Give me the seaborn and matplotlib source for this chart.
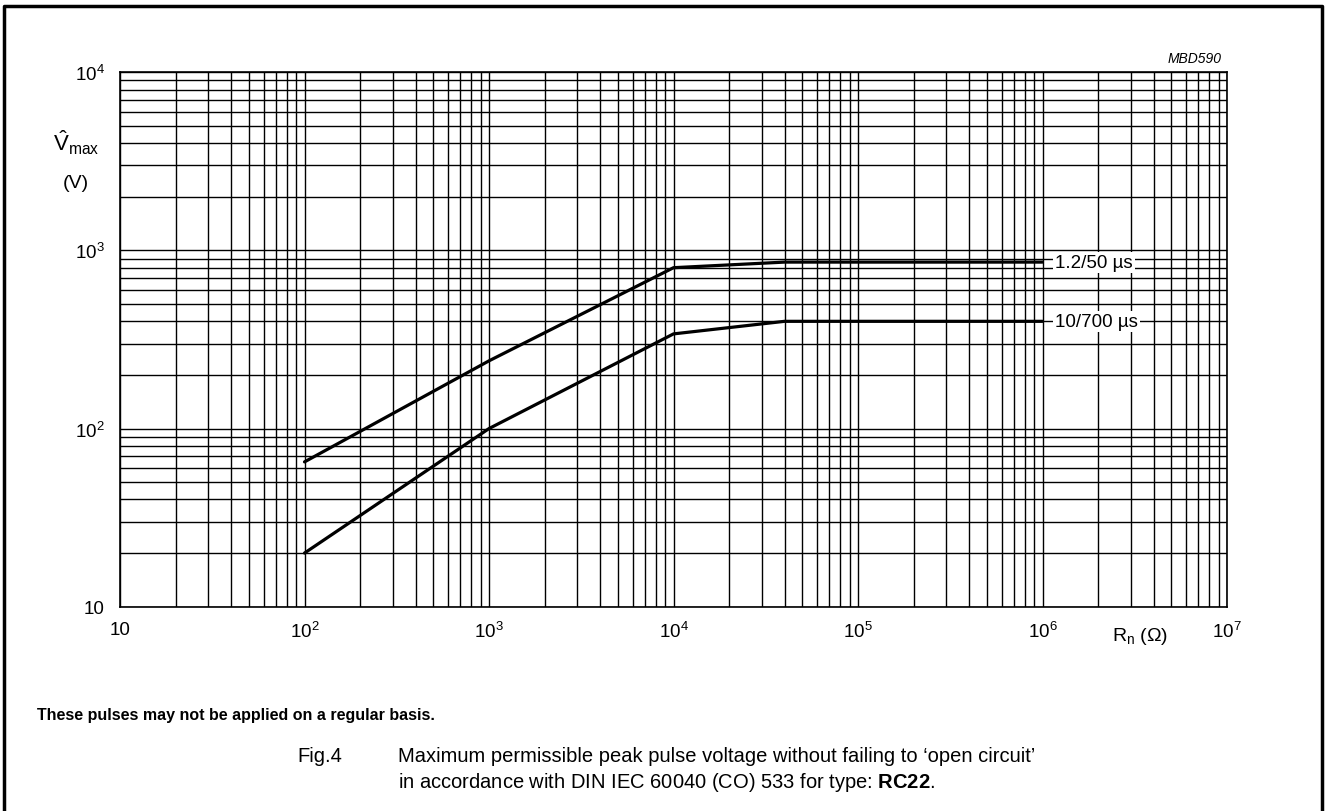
import numpy as np
import pandas as pd
import seaborn as sns
import matplotlib.pyplot as plt
from matplotlib.ticker import LogLocator, NullFormatter, FixedFormatter, FixedLocator

# data: resistance (ohm) vs max peak pulse voltage (V)
r_fast = [1e2, 1e3, 1e4, 4e4, 1e6]
v_fast = [65, 240, 800, 860, 860]      # 1.2/50 us
r_slow = [1e2, 1e3, 1e4, 4e4, 1e6]
v_slow = [20, 100, 340, 400, 400]      # 10/700 us
series_names = ['1.2/50 µs', '10/700 µs']

x_ticks = [1e1, 1e2, 1e3, 1e4, 1e5, 1e6, 1e7]
x_ticklabels = ['10', '$10^{2}$', '$10^{3}$', '$10^{4}$', '$10^{5}$', '$10^{6}$', '$10^{7}$']
y_ticks = [1e1, 1e2, 1e3, 1e4]
y_ticklabels = ['10', '$10^{2}$', '$10^{3}$', '$10^{4}$']

df = pd.concat([
    pd.DataFrame({'R': r_fast, 'V': v_fast, 'pulse': series_names[0]}),
    pd.DataFrame({'R': r_slow, 'V': v_slow, 'pulse': series_names[1]}),
])

sns.set_style('white')
plt.rcParams['font.family'] = ['Liberation Sans', 'DejaVu Sans']
plt.rcParams['text.color'] = 'black'
plt.rcParams['mathtext.fontset'] = 'custom'
plt.rcParams['mathtext.rm'] = 'Liberation Sans'
plt.rcParams['mathtext.it'] = 'Liberation Sans:italic'
plt.rcParams['mathtext.bf'] = 'Liberation Sans:bold'

fig = plt.figure(figsize=(13.26, 8.12), dpi=100)
ax = fig.add_axes([120 / 1326, 1 - 607.7 / 812, 1107 / 1326, 534.4 / 812])

sns.lineplot(data=df, x='R', y='V', hue='pulse', palette=['black', 'black'],
             linewidth=2.3, legend=False, ax=ax, zorder=3)

ax.set_xscale('log')
ax.set_yscale('log')
ax.set_xlim(1e1, 1e7)
ax.set_ylim(1e1, 1e4)

ax.xaxis.set_major_locator(FixedLocator(x_ticks))
ax.xaxis.set_major_formatter(FixedFormatter(x_ticklabels))
ax.yaxis.set_major_locator(FixedLocator(y_ticks))
ax.yaxis.set_major_formatter(FixedFormatter(y_ticklabels))
ax.xaxis.set_minor_locator(LogLocator(base=10, subs=np.arange(2, 10)))
ax.yaxis.set_minor_locator(LogLocator(base=10, subs=np.arange(2, 10)))
ax.xaxis.set_minor_formatter(NullFormatter())
ax.yaxis.set_minor_formatter(NullFormatter())
ax.tick_params(which='both', length=0, labelsize=13.5, colors='black')
ax.tick_params(axis='x', pad=10)
ax.tick_params(axis='y', pad=11)
ax.grid(which='both', color='black', linewidth=1.0)
for s in ax.spines.values():
    s.set_color('black')
    s.set_linewidth(1.2)
ax.set_xlabel('')
ax.set_ylabel('')

# curve labels with white boxes cutting the grid
for name, y in zip(series_names, [v_fast[-1], v_slow[-1]]):
    ax.text(1.17e6, y, name, fontsize=13.5, va='center', ha='left', zorder=4,
            bbox=dict(facecolor='white', edgecolor='none', pad=1.5))

# axis labels
fig.text(76 / 1326, 1 - 143 / 812, r'$\hat{\mathrm{V}}_{\mathrm{max}}$', fontsize=16,
         ha='center', va='center')
fig.text(76 / 1326, 1 - 183 / 812, '(V)', fontsize=14, ha='center', va='center')
fig.text(1140 / 1326, 1 - 637 / 812, r'R$_{\mathrm{n}}$ ($\Omega$)', fontsize=14,
         ha='center', va='center')
fig.text(1222 / 1326, 1 - 59 / 812, 'MBD590', fontsize=10, style='italic',
         ha='right', va='center')

# notes and caption
fig.text(37 / 1326, 1 - 716 / 812, 'These pulses may not be applied on a regular basis.',
         fontsize=11.5, weight='bold', ha='left', va='center')
fig.text(297 / 1326, 1 - 757 / 812, 'Fig.4', fontsize=14.5, ha='left', va='center')
fig.text(398 / 1326, 1 - 757 / 812,
         'Maximum permissible peak pulse voltage without failing to \u2018open circuit\u2019',
         fontsize=14.5, ha='left', va='center')
fig.text(398 / 1326, 1 - 783 / 812,
         r'in accordance with DIN IEC 60040 (CO) 533 for type: $\mathbf{RC22}$.',
         fontsize=14.5, ha='left', va='center')

# outer frame (open at the bottom)
fig.add_artist(plt.Line2D([3.5 / 1326, 3.5 / 1326, 1322 / 1326, 1322 / 1326],
                          [0, 1 - 6.5 / 812, 1 - 6.5 / 812, 0],
                          transform=fig.transFigure, color='black', linewidth=2.5))

fig.savefig('out.png', dpi=100)
